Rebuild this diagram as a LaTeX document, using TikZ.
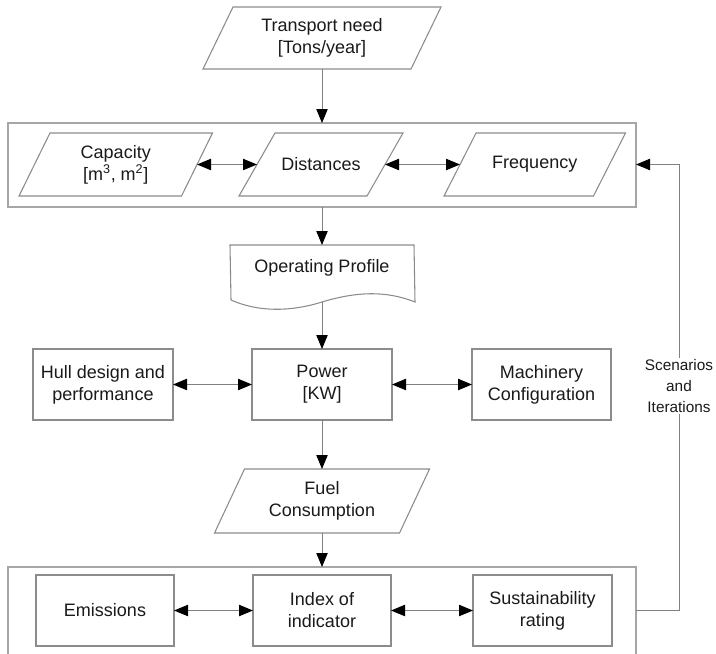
\documentclass[tikz,border=0pt]{standalone}
\usepackage{fontspec}
\setmainfont{Liberation Sans}
\usetikzlibrary{arrows.meta}

\definecolor{edgegray}{HTML}{8C8C8C}
\definecolor{framegray}{HTML}{A6A6A6}
\definecolor{linegray}{HTML}{808080}
\definecolor{textdark}{HTML}{1A1A1A}

\newcommand{\diagfont}{\fontsize{13.5pt}{16.5pt}\selectfont}
\newcommand{\notefont}{\fontsize{11.5pt}{15.5pt}\selectfont}

% outline of a parallelogram around a (borderless) rectangle node:
% #1 = node name, #2 = horizontal slant between bottom and top edge
\newcommand{\paraoutline}[2]{%
  \draw[shapeline] ([xshift=-#2/2]#1.south west) -- ([xshift=#2/2]#1.north west)
    -- ([xshift=#2/2]#1.north east) -- ([xshift=-#2/2]#1.south east) -- cycle;}

\tikzset{
  shapeline/.style={draw=edgegray, line width=0.8pt, line join=miter},
  para/.style={rectangle, outer sep=0pt, inner sep=2pt, align=center,
               font=\diagfont, text=textdark},
  box/.style={rectangle, draw=edgegray, line width=0.8pt, outer sep=0pt,
              inner sep=2pt, align=center, font=\diagfont, text=textdark,
              minimum height=53.25pt},
  frame/.style={rectangle, draw=framegray, line width=1.1pt, outer sep=0pt},
  conn/.style={draw=linegray, line width=0.75pt,
               >={Triangle[length=10.5pt,width=8.5pt,color=black]}},
}

\begin{document}
\begin{tikzpicture}[x=0.75pt,y=-0.75pt]
\useasboundingbox (0,0) rectangle (716,653);
\fill[white] (0,0) rectangle (716,653);

% input
\node[para, minimum width=156pt, minimum height=46.5pt] (trans) at (322,38)
  {Transport need\\{[Tons/year]}};
\paraoutline{trans}{22.5pt}

% transport parameters
\node[frame, minimum width=471pt, minimum height=63pt] (topgrp) at (322,165) {};
\node[para, minimum width=121.9pt, minimum height=47.25pt] (cap) at (115.75,164.5)
  {Capacity\\{[m\textsuperscript{3}, m\textsuperscript{2}]}};
\paraoutline{cap}{23.25pt}
\node[para, minimum width=96pt, minimum height=47.25pt] (dist) at (321,164.5) {Distances};
\paraoutline{dist}{27pt}
\node[para, minimum width=112.1pt, minimum height=47.25pt] (freq) at (534.75,164.5) {Frequency};
\paraoutline{freq}{24pt}

% operating profile (document shape)
\node[para, minimum width=138pt, minimum height=34.5pt] (prof) at (322,268) {Operating Profile};
\draw[shapeline] (231,300) -- (prof.north west) -- (prof.north east) -- (415,302)
  .. controls (385,290) and (355,292) .. (322,302)
  .. controls (290,312) and (258,312) .. (231,300);
\coordinate (wave) at (322,302);

% power balance
\node[box, minimum width=105pt] (power) at (322,384.5) {Power\\{[KW]}};
\node[box, minimum width=105pt] (hull) at (103,384.5) {Hull design and\\performance};
\node[box, minimum width=104.25pt] (mach) at (541.5,384.5) {Machinery\\Configuration};

% fuel
\node[para, minimum width=138.75pt, minimum height=48pt] (fuel) at (322,501) {Fuel\\Consumption};
\paraoutline{fuel}{22.5pt}

% assessment
\node[frame, minimum width=471pt, minimum height=69.75pt] (botgrp) at (322,613.5) {};
\node[box, minimum width=103.5pt] (emis) at (105,610.5) {Emissions};
\node[box, minimum width=103.5pt] (index) at (322,610.5) {Index of\\indicator};
\node[box, minimum width=104.25pt] (sust) at (542.5,610.5) {Sustainability\\rating};

% main flow
\draw[conn,->] (trans.south) -- (topgrp.north);
\draw[conn,->] (topgrp.south) -- (prof.north);
\draw[conn,->] (wave) -- (power.north);
\draw[conn,->] (power.south) -- (fuel.north);
\draw[conn,->] (fuel.south) -- (botgrp.north);

% two-way links
\draw[conn,<->] (cap.east) -- (dist.west);
\draw[conn,<->] (dist.east) -- (freq.west);
\draw[conn,<->] (hull.east) -- (power.west);
\draw[conn,<->] (power.east) -- (mach.west);
\draw[conn,<->] (emis.east) -- (index.west);
\draw[conn,<->] (index.east) -- (sust.west);

% feedback loop
\coordinate (fbbot) at (679,610.5);
\coordinate (fbtop) at (679,164.5);
\draw[conn,->] (botgrp.east |- emis.east) -- (fbbot) -- (fbtop) -- (topgrp.east |- fbtop);
\node[fill=white, inner sep=1.5pt, align=center, font=\notefont, text=textdark] (scen) at (679,386)
  {Scenarios\\and\\Iterations};
\end{tikzpicture}
\end{document}
